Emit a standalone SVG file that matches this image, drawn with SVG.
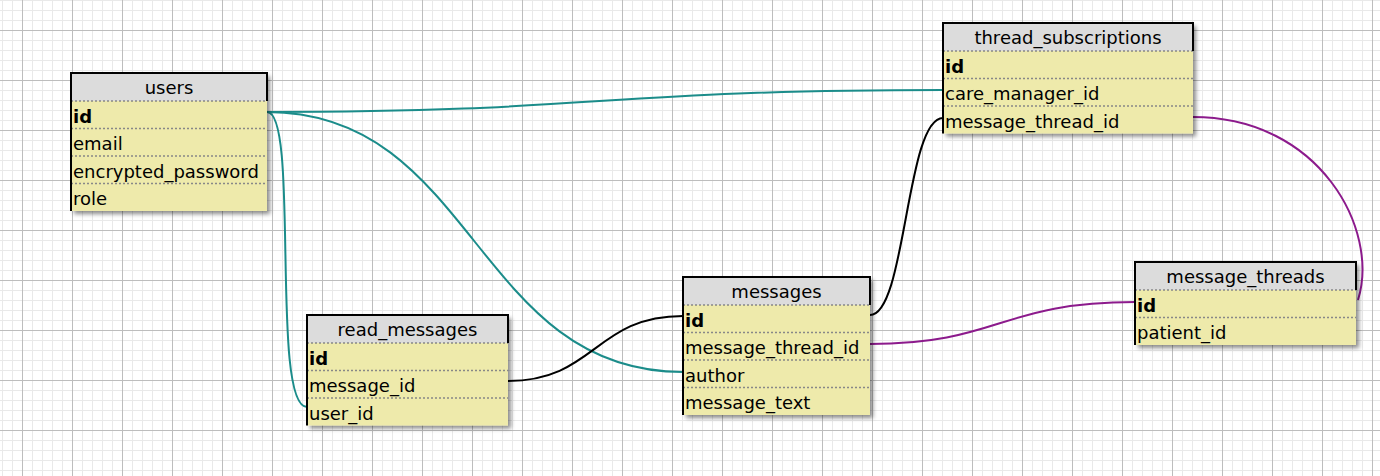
<svg xmlns="http://www.w3.org/2000/svg" width="1380" height="476" viewBox="0 0 1380 476">
<style>
.hdr{fill:#dcdcdc}
.body{fill:#eeeaab}
.frame{fill:none;stroke:#000;stroke-width:2}
.sep{stroke:#888;stroke-width:1.5;stroke-dasharray:2 2}
.t{font-family:"DejaVu Sans",Verdana,sans-serif;font-size:18px;fill:#000}
.ttl{text-anchor:middle}
.pk{font-weight:bold}
.c{fill:none;stroke-width:2}
.teal{stroke:#1b8c8a}
.blk{stroke:#000}
.pur{stroke:#8c1a8c}
</style>
<defs>
<pattern id="grid" patternUnits="userSpaceOnUse" x="22" y="30" width="50" height="50">
<rect width="50" height="50" fill="#fff"/>
<g fill="#e9e9e9">
<rect x="10" y="0" width="1" height="50"/><rect x="20" y="0" width="1" height="50"/><rect x="30" y="0" width="1" height="50"/><rect x="40" y="0" width="1" height="50"/>
<rect x="0" y="10" width="50" height="1"/><rect x="0" y="20" width="50" height="1"/><rect x="0" y="30" width="50" height="1"/><rect x="0" y="40" width="50" height="1"/>
</g>
<g fill="#bdbdbd"><rect x="0" y="0" width="1" height="50"/><rect x="0" y="0" width="50" height="1"/></g>
</pattern>
<filter id="sh" x="-10%" y="-10%" width="130%" height="130%">
<feDropShadow dx="3" dy="3" stdDeviation="2.2" flood-color="#000" flood-opacity="0.45"/>
</filter>
</defs>
<rect width="1380" height="476" fill="url(#grid)"/>

<g id="connectors">
<path class="c teal" d="M267,112 C 600,112 600,90 943,90"/>
<path class="c teal" d="M267,112 C 475,112 475,372 683,372"/>
<path class="c teal" d="M267,112 C 300,112 270,407 307,407"/>
<path class="c blk" d="M508,381 C 595,381 595,316 683,316"/>
<path class="c blk" d="M870,315 C 906,315 906,118 943,118"/>
<path class="c pur" d="M870,344 C 1000,344 1000,302 1135,302"/>
<path class="c pur" d="M1193,117 C 1320,117 1380,230 1358,300"/>
</g>

<g id="users" transform="translate(71,73)">
<rect class="body" width="196" height="138" filter="url(#sh)"/>
<rect class="hdr" width="196" height="28"/>
<line class="sep" x1="0" y1="28" x2="196" y2="28"/>
<line class="sep" x1="0" y1="55.5" x2="196" y2="55.5"/>
<line class="sep" x1="0" y1="83" x2="196" y2="83"/>
<line class="sep" x1="0" y1="110.5" x2="196" y2="110.5"/>
<path class="frame" d="M0,138 V0 H196 V28"/>
<text class="t ttl" x="98" y="21">users</text>
<text class="t pk" x="2" y="49.5">id</text>
<text class="t" x="2" y="77">email</text>
<text class="t" x="2" y="104.5">encrypted_password</text>
<text class="t" x="2" y="132">role</text>
</g>

<g id="thread_subscriptions" transform="translate(943,23)">
<rect class="body" width="250" height="110.5" filter="url(#sh)"/>
<rect class="hdr" width="250" height="28"/>
<line class="sep" x1="0" y1="28" x2="250" y2="28"/>
<line class="sep" x1="0" y1="55.5" x2="250" y2="55.5"/>
<line class="sep" x1="0" y1="83" x2="250" y2="83"/>
<path class="frame" d="M0,110.5 V0 H250 V28"/>
<text class="t ttl" x="125" y="21">thread_subscriptions</text>
<text class="t pk" x="2" y="49.5">id</text>
<text class="t" x="2" y="77">care_manager_id</text>
<text class="t" x="2" y="104.5">message_thread_id</text>
</g>

<g id="messages" transform="translate(683,277)">
<rect class="body" width="187" height="138" filter="url(#sh)"/>
<rect class="hdr" width="187" height="28"/>
<line class="sep" x1="0" y1="28" x2="187" y2="28"/>
<line class="sep" x1="0" y1="55.5" x2="187" y2="55.5"/>
<line class="sep" x1="0" y1="83" x2="187" y2="83"/>
<line class="sep" x1="0" y1="110.5" x2="187" y2="110.5"/>
<path class="frame" d="M0,138 V0 H187 V28"/>
<text class="t ttl" x="93.5" y="21">messages</text>
<text class="t pk" x="2" y="49.5">id</text>
<text class="t" x="2" y="77">message_thread_id</text>
<text class="t" x="2" y="104.5">author</text>
<text class="t" x="2" y="132">message_text</text>
</g>

<g id="read_messages" transform="translate(307,315)">
<rect class="body" width="201" height="110.5" filter="url(#sh)"/>
<rect class="hdr" width="201" height="28"/>
<line class="sep" x1="0" y1="28" x2="201" y2="28"/>
<line class="sep" x1="0" y1="55.5" x2="201" y2="55.5"/>
<line class="sep" x1="0" y1="83" x2="201" y2="83"/>
<path class="frame" d="M0,110.5 V0 H201 V28"/>
<text class="t ttl" x="100.5" y="21">read_messages</text>
<text class="t pk" x="2" y="49.5">id</text>
<text class="t" x="2" y="77">message_id</text>
<text class="t" x="2" y="104.5">user_id</text>
</g>

<g id="message_threads" transform="translate(1135,262)">
<rect class="body" width="221" height="83" filter="url(#sh)"/>
<rect class="hdr" width="221" height="28"/>
<line class="sep" x1="0" y1="28" x2="221" y2="28"/>
<line class="sep" x1="0" y1="55.5" x2="221" y2="55.5"/>
<path class="frame" d="M0,83 V0 H221 V28"/>
<text class="t ttl" x="110.5" y="21">message_threads</text>
<text class="t pk" x="2" y="49.5">id</text>
<text class="t" x="2" y="77">patient_id</text>
</g>
</svg>
